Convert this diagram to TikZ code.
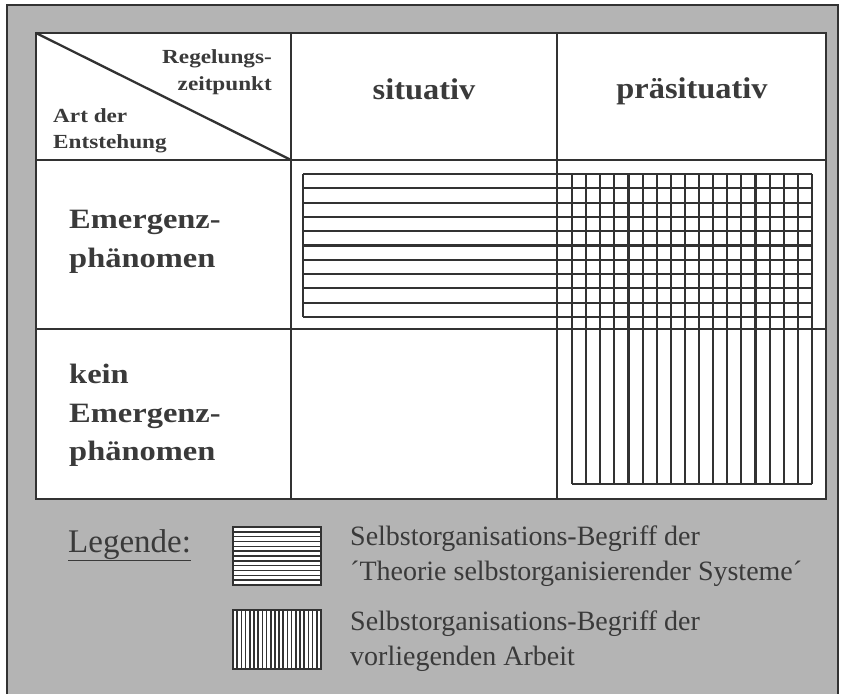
\documentclass[tikz,border=0pt]{standalone}
\usepackage{fontspec}
\setmainfont{Liberation Serif}
\newfontfamily\fsSmall[FakeStretch=1.16]{Liberation Serif}
\newfontfamily\fsBig[FakeStretch=1.08]{Liberation Serif}
\newfontfamily\fsRow[FakeStretch=1.16]{Liberation Serif}
\definecolor{bg}{RGB}{180,180,180}
\definecolor{ln}{RGB}{50,50,50}
\definecolor{txt}{RGB}{58,58,58}
\tikzset{
  hdsmall/.style={inner sep=0, text=txt, font=\fsSmall\bfseries\fontsize{20}{20}\selectfont},
  hdbig/.style={inner sep=0, anchor=base, text=txt, font=\fsBig\bfseries\fontsize{30}{30}\selectfont},
  rowlab/.style={inner sep=0, anchor=base west, text=txt, font=\fsRow\bfseries\fontsize{28}{28}\selectfont},
  legtxt/.style={inner sep=0, anchor=base west, text=txt, font=\fontsize{28}{28}\selectfont},
  gridline/.style={line width=2.3pt, draw=ln},
  hatchline/.style={line width=2.1pt, draw=ln},
  leghatch/.style={line width=1.6pt, draw=ln},
}
\begin{document}
\begin{tikzpicture}[x=1pt,y=-1pt]
\useasboundingbox (0,0) rectangle (845,694);
% panel
\fill[white] (0,0) rectangle (845,694);
\fill[bg] (7,5) rectangle (838,694);
\draw[line width=2pt, ln] (7,694) -- (7,5) -- (838,5) -- (838,694);
% table
\fill[white] (36,33) rectangle (826,499);
\draw[gridline] (36,33) rectangle (826,499);
\draw[gridline] (291,33) -- (291,499);
\draw[gridline] (557,33) -- (557,499);
\draw[gridline] (36,160) -- (826,160);
\draw[gridline] (36,329) -- (826,329);
\draw[gridline] (36,33) -- (291,160);
% header texts
\node[hdsmall, anchor=base east] (reg1) at (272,63) {Regelungs-};
\node[hdsmall, anchor=base east] (reg2) at (272,90) {zeitpunkt};
\node[hdsmall, anchor=base west] (art1) at (53,122) {Art der};
\node[hdsmall, anchor=base west] (art2) at (53,148) {Entstehung};
\node[hdbig] (sit) at (424,99) {situativ};
\node[hdbig] (prae) at (692,98) {präsituativ};
% row labels
\node[rowlab] (e1a) at (69,228) {Emergenz-};
\node[rowlab] (e1b) at (69,267) {phänomen};
\node[rowlab] (e2a) at (69,383) {kein};
\node[rowlab] (e2b) at (69,422) {Emergenz-};
\node[rowlab] (e2c) at (69,460) {phänomen};
% horizontal hatch
\foreach \i in {0,...,10} {
  \draw[hatchline] (303,174+\i*14.3) -- (812,174+\i*14.3);
}
\draw[hatchline] (303,174) -- (303,317);
\draw[hatchline] (812,174) -- (812,317);
% vertical hatch
\foreach \i in {0,...,17} {
  \draw[hatchline] (572+\i*14.118,174) -- (572+\i*14.118,484);
}
\draw[hatchline] (572,484) -- (812,484);
% legend
\node[inner sep=0, anchor=base west, text=txt, font=\fontsize{33}{33}\selectfont] (leg) at (68,552) {\underline{Legende:}};
\fill[white] (233,527) rectangle (321,585);
\foreach \i in {1,...,11} {
  \draw[leghatch] (233,527+\i*4.833) -- (321,527+\i*4.833);
}
\draw[line width=1.8pt, ln] (233,527) rectangle (321,585);
\fill[white] (233,610) rectangle (321,669);
\foreach \i in {1,...,20} {
  \draw[leghatch] (233+\i*4.19,610) -- (233+\i*4.19,669);
}
\draw[line width=1.8pt, ln] (233,610) rectangle (321,669);
\node[legtxt] (l1a) at (350,545) {Selbstorganisations-Begriff der};
\node[legtxt] (l1b) at (350,580) {´Theorie selbstorganisierender Systeme´};
\node[legtxt] (l2a) at (350,630) {Selbstorganisations-Begriff der};
\node[legtxt] (l2b) at (350,665) {vorliegenden Arbeit};
\end{tikzpicture}
\end{document}
